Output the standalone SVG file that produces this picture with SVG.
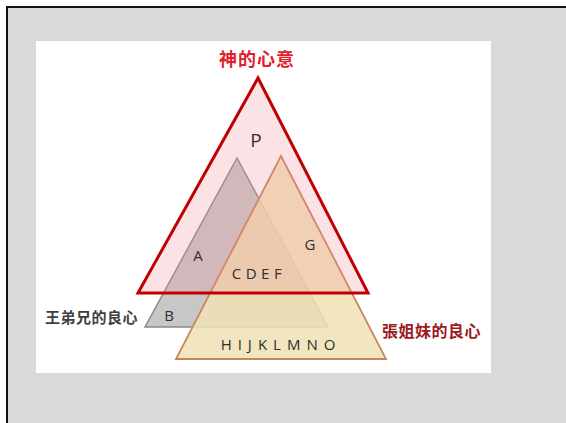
<svg xmlns="http://www.w3.org/2000/svg" width="566" height="423" viewBox="0 0 566 423">
<style>
.lat{font-family:"Open Sans","Liberation Sans",sans-serif;fill:#2e2e2e}
.cjk{font-family:"Noto Sans CJK TC","Noto Sans CJK SC",sans-serif;font-weight:bold}
</style>
<rect x="0" y="0" width="566" height="423" fill="#ffffff"/>
<rect x="7" y="7" width="566" height="423" fill="#d9d9d9" stroke="#111" stroke-width="2"/>
<rect x="36" y="41" width="455" height="332" fill="#ffffff"/>
<g id="brother">
<polygon points="237,158 145,327 328,327" fill="#bdbdbd" fill-opacity="0.85" stroke="#8a8a8a" stroke-width="1.5"/>
</g>
<g id="sister">
<polygon points="281,156 176,359 386,359" fill="#f0e2b5" fill-opacity="0.85" stroke="#c8845e" stroke-width="1.8"/>
</g>
<g id="god">
<polygon points="258,78 138,293 368,293" fill="#f09098" fill-opacity="0.25" stroke="#c00000" stroke-width="3"/>
</g>
<g id="labels">
<text class="cjk" x="257" y="66" font-size="18" fill="#e3202a" text-anchor="middle" letter-spacing="1">神的心意</text>
<text class="lat" x="256" y="147" font-size="19" fill="#111" text-anchor="middle">P</text>
<text class="lat" x="198" y="261" font-size="15" text-anchor="middle">A</text>
<text class="lat" x="310" y="250" font-size="15" text-anchor="middle">G</text>
<text class="lat" x="259" y="279" font-size="15" text-anchor="middle" letter-spacing="4.5">CDEF</text>
<text class="lat" x="169" y="321" font-size="15" fill="#111" text-anchor="middle">B</text>
<text class="lat" x="281" y="350" font-size="15" text-anchor="middle" letter-spacing="6">HIJKLMNO</text>
<text class="cjk" x="45" y="323" font-size="15" fill="#404040" letter-spacing="0.5">王弟兄的良心</text>
<text class="cjk" x="382" y="337" font-size="16" fill="#9b1c1c" letter-spacing="0.5">張姐妹的良心</text>
</g>
</svg>
